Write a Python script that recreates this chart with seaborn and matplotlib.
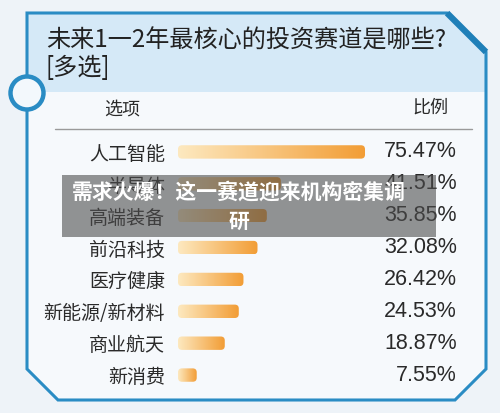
import numpy as np
import matplotlib
matplotlib.use('Agg')
import matplotlib.pyplot as plt
import seaborn as sns
from matplotlib.patches import Polygon, FancyBboxPatch, Rectangle, Circle
from matplotlib.colors import LinearSegmentedColormap

# data
categories = ['人工智能', '半导体', '高端装备', '前沿科技', '医疗健康', '新能源/新材料', '商业航天', '新消费']
shares = [75.47, 41.51, 35.85, 32.08, 26.42, 24.53, 18.87, 7.55]
share_labels = ['75.47%', '41.51%', '35.85%', '32.08%', '26.42%', '24.53%', '18.87%', '7.55%']
title = '未来1一2年最核心的投资赛道是哪些?'
subtitle = '[多选]'
col_left, col_right = '选项', '比例'
overlay_lines = ['需求火爆！这一赛道迎来机构密集调', '研']

sns.set_theme(style='white')
plt.rcParams['font.family'] = ['Noto Sans CJK SC', 'DejaVu Sans']

W, H = 500, 413
fig = plt.figure(figsize=(5, 4.13), dpi=100)
fig.patch.set_facecolor('#eef3f8')

# background panel drawn in pixel coordinates
bg = fig.add_axes([0, 0, 1, 1])
bg.set_xlim(0, W)
bg.set_ylim(H, 0)
bg.axis('off')
panel = [(27, 13), (447, 13), (486, 52), (486, 369), (455, 400), (58, 400), (27, 369)]
bg.add_patch(Polygon(panel, closed=True, fc='#f6f9fc', ec='none'))
bg.add_patch(Polygon([(27, 13), (447, 13), (486, 52), (486, 92), (27, 92)], fc='#d5e9f7', ec='none'))
bg.add_patch(Polygon(panel, closed=True, fill=False, ec='#2a8cc4', lw=2.2, joinstyle='miter'))
bg.plot([447, 486], [13, 52], color='#1f7fb8', lw=4.5, solid_capstyle='butt')
bg.add_patch(Circle((27, 93), 16.5, fc='#f3f8fc', ec='#2a8cc4', lw=3.2))
bg.text(46, 40, title, fontsize=17.4, va='center', color='#222222')
bg.text(46, 68, subtitle, fontsize=17.4, va='center', color='#222222')
bg.text(122, 110, col_left, ha='center', va='center', fontsize=13, color='#2a2a2a')
bg.text(430, 108, col_right, ha='center', va='center', fontsize=13, color='#2a2a2a')
bg.plot([55, 472], [129, 129], color='#9a9a9a', lw=1)

# bar axes
ax = fig.add_axes([178 / W, 1 - 391 / H, 280 / W, 255 / H])
ax.patch.set_alpha(0)
sns.barplot(x=shares, y=categories, orient='h', width=0.42, color='#f2a43a', ax=ax)
xmax = 113
ax.set_xlim(0, xmax)
ax.set_ylim(7.5, -0.5)
sns.despine(ax=ax, left=True, bottom=True)
ax.set_xticks([])
ax.set_xlabel('')
ax.set_ylabel('')
ax.tick_params(axis='y', length=0, pad=9.4, labelsize=13.7, labelcolor='#2a2a2a')

cmap = LinearSegmentedColormap.from_list('bar', ['#fde9c0', '#f29d35'])
grad = np.linspace(0, 1, 256).reshape(1, -1)
aspect = (8 / 255) / (xmax / 280)
for p in list(ax.patches):
    x0, y0, w, h = p.get_x(), p.get_y(), p.get_width(), p.get_height()
    p.set_visible(False)
    clip = FancyBboxPatch((x0, y0), w, h,
                          boxstyle='round,pad=0,rounding_size=%f' % (4 * xmax / 280),
                          mutation_aspect=aspect, fc='none', ec='none')
    ax.add_patch(clip)
    im = ax.imshow(grad, extent=[x0, x0 + w, y0 + h, y0], cmap=cmap, aspect='auto',
                   interpolation='bilinear', zorder=2)
    im.set_clip_path(clip)
ax.set_xlim(0, xmax)
ax.set_ylim(7.5, -0.5)

for i, t in enumerate(share_labels):
    ax.text(0.996, i, t, transform=ax.get_yaxis_transform(), ha='right', va='center',
            fontsize=15.5, family=['Liberation Sans', 'Noto Sans CJK SC'], color='#2a2a2a')

# caption overlay on top
ov = fig.add_axes([0, 0, 1, 1])
ov.set_xlim(0, W)
ov.set_ylim(H, 0)
ov.axis('off')
ov.patch.set_alpha(0)
ov.add_patch(Rectangle((62, 175), 374, 62, fc='#4d4d4d', alpha=0.6, ec='none'))
ov.text(239, 192, overlay_lines[0], ha='center', va='center', fontsize=15, fontweight='bold', color='white')
ov.text(239, 221, overlay_lines[1], ha='center', va='center', fontsize=15, fontweight='bold', color='white')

fig.savefig('out.png', dpi=100, facecolor=fig.get_facecolor())
